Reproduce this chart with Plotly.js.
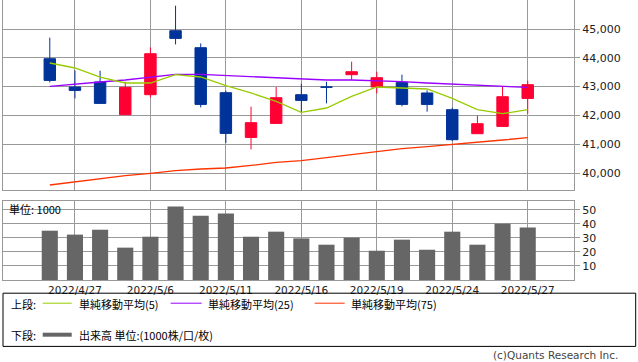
<!DOCTYPE html>
<html><head><meta charset="utf-8">
<script src="https://cdn.plot.ly/plotly-3.0.1.min.js"></script>
<style>html,body{margin:0;padding:0;background:#fff;} #chart{width:638px;height:362px;}</style>
</head><body><div id="chart"></div>
<script>
const dates = ['2022/4/26','2022/4/27','2022/4/28','2022/5/2','2022/5/6','2022/5/9','2022/5/10','2022/5/11','2022/5/12','2022/5/13','2022/5/16','2022/5/17','2022/5/18','2022/5/19','2022/5/20','2022/5/23','2022/5/24','2022/5/25','2022/5/26','2022/5/27'];
const openP  = [43969, 42986, 43160, 42024, 42719, 44941, 44351, 42788, 41236, 41722, 42719, 42986, 43413, 42986, 43146, 42778, 42198, 41365, 41618, 42590];
const highP  = [44698, 43563, 43552, 43170, 44361, 45809, 44500, 42858, 42302, 42986, 43101, 43170, 43865, 43517, 43413, 42868, 42268, 41990, 43007, 43205];
const lowP   = [43146, 42590, 42417, 42024, 42625, 44465, 42278, 41042, 40820, 41722, 42083, 42417, 43229, 42764, 42313, 42129, 41111, 41365, 41618, 42059];
const closeP = [43215, 42868, 42417, 42972, 44142, 44674, 42382, 41375, 41747, 42615, 42521, 42980, 43517, 43309, 42382, 42382, 41156, 41712, 42649, 43066];
const ma5  = [43819, 43646, 43333, 43125, 43125, 43413, 43333, 43031, 42778, 42486, 42104, 42257, 42660, 42986, 42951, 42917, 42590, 42198, 42059, 42198];
const ma25 = [43007, 43090, 43160, 43229, 43333, 43424, 43424, 43389, 43354, 43309, 43264, 43229, 43229, 43210, 43170, 43125, 43090, 43055, 43021, 42972];
const ma75 = [39583, 39698, 39792, 39906, 39986, 40080, 40139, 40174, 40264, 40368, 40427, 40531, 40646, 40740, 40844, 40913, 40983, 41076, 41146, 41226];
const volume = [35.2, 32.4, 35.9, 23.1, 30.9, 52.4, 45.9, 47.4, 30.9, 34.5, 29.7, 25.2, 30.2, 20.9, 28.8, 21.6, 34.5, 25.2, 40.2, 37.4];
const tickDates = ['2022/4/27','2022/5/6','2022/5/11','2022/5/16','2022/5/19','2022/5/24','2022/5/27'];
const priceTicks = [40000, 41000, 42000, 43000, 44000, 45000];
const volTicks = [10, 20, 30, 40, 50];
const legendTop = ['単純移動平均(5)', '単純移動平均(25)', '単純移動平均(75)'];
const legendBottom = '出来高 単位:(1000株/口/枚)';

// pixel -> paper helpers (layout positioning only)
const L = 3.3, R = 574.3, T = 0.3, B = 280.3;
const px = x => (x - L) / (R - L);
const py = y => (B - y) / (B - T);

const FONT = 'DejaVu Sans, Noto Sans CJK JP, sans-serif';
const JFONT = 'Noto Sans CJK JP, DejaVu Sans, sans-serif';
const GRID = '#999999';

const traces = [
  {type:'candlestick', x:dates, open:openP, high:highP, low:lowP, close:closeP,
   xaxis:'x', yaxis:'y', whiskerwidth:0,
   increasing:{line:{color:'#ff0033', width:1}, fillcolor:'#ff0033'},
   decreasing:{line:{color:'#003399', width:1}, fillcolor:'#003399'},
   hoverinfo:'skip', showlegend:false},
  {type:'scatter', mode:'lines', x:dates, y:ma75, xaxis:'x', yaxis:'y', line:{color:'#ff3300', width:1.3}, showlegend:false, hoverinfo:'skip'},
  {type:'scatter', mode:'lines', x:dates, y:ma25, xaxis:'x', yaxis:'y', line:{color:'#9900ff', width:1.3}, showlegend:false, hoverinfo:'skip'},
  {type:'scatter', mode:'lines', x:dates, y:ma5, xaxis:'x', yaxis:'y', line:{color:'#99cc00', width:1.3}, showlegend:false, hoverinfo:'skip'},
  {type:'bar', x:dates, y:volume, xaxis:'x2', yaxis:'y2', width:0.64, marker:{color:'#666666', line:{width:0}}, showlegend:false, hoverinfo:'skip'}
];

const xr = [-1.86, 20.84];
const axX = {type:'category', categoryorder:'array', categoryarray:dates, range:xr,
  showgrid:true, gridcolor:GRID, gridwidth:1, showline:true, linecolor:GRID, linewidth:1, mirror:true,
  tickmode:'array', tickvals:tickDates, ticks:'', zeroline:false, fixedrange:true};

const shapes = [
  {type:'rect', xref:'paper', yref:'paper', x0:px(3.3), x1:px(636), y0:py(293.5), y1:py(346.7), line:{color:'#000', width:1}, fillcolor:'rgba(0,0,0,0)'},
  {type:'line', xref:'paper', yref:'paper', x0:px(43), x1:px(72), y0:py(303.5), y1:py(303.5), line:{color:'#99cc00', width:1}},
  {type:'line', xref:'paper', yref:'paper', x0:px(171), x1:px(202), y0:py(303.5), y1:py(303.5), line:{color:'#9900ff', width:1}},
  {type:'line', xref:'paper', yref:'paper', x0:px(315), x1:px(345), y0:py(303.5), y1:py(303.5), line:{color:'#ff3300', width:1}},
  {type:'line', xref:'paper', yref:'paper', x0:px(43), x1:px(72), y0:py(335), y1:py(335), line:{color:'#666666', width:4}}
];

const ann = (text, x, y, size, color, anchor, fam) => ({text, xref:'paper', yref:'paper', x:px(x), y:py(y),
  xanchor:anchor||'left', yanchor:'middle', showarrow:false, font:{family:fam||JFONT, size:size||11, color:color||'#000'}});

const annotations = [
  ann('単位: 1000', 7, 209, 11, '#000'),
  ann('上段:', 9, 304.5, 11),
  ann(legendTop[0], 77, 304.5, 11),
  ann(legendTop[1], 206, 304.5, 11),
  ann(legendTop[2], 349, 304.5, 11),
  ann('下段:', 9, 335.5, 11),
  ann(legendBottom, 77, 335.5, 11),
  ann('(c)Quants Research Inc.', 620, 355, 10.5, '#444', 'right', FONT)
];

const layout = {
  width:638, height:362, margin:{l:L, r:638-R, t:T, b:362-B, pad:0},
  paper_bgcolor:'#fff', plot_bgcolor:'#fff', showlegend:false, boxgap:0.35, bargap:0.36,
  font:{family:FONT, size:11, color:'#222'},
  xaxis: Object.assign({}, axX, {anchor:'y', showticklabels:false, rangeslider:{visible:false}}),
  xaxis2: Object.assign({}, axX, {anchor:'y2', showticklabels:true, matches:'x', tickfont:{family:FONT, size:10.5, color:'#222'}}),
  yaxis: {domain:[py(190), 1], range:[39420, 46007], side:'right', anchor:'x', tickmode:'array', tickvals:priceTicks,
    tickformat:',d', showgrid:true, gridcolor:GRID, showline:true, linecolor:GRID, mirror:true, zeroline:false,
    ticks:'outside', ticklen:5, tickcolor:GRID, tickfont:{family:FONT, size:11, color:'#222'}, fixedrange:true},
  yaxis2: {domain:[0, py(201.3)], range:[0, 56.4], side:'right', anchor:'x2', tickmode:'array', tickvals:volTicks,
    showgrid:true, gridcolor:GRID, showline:true, linecolor:GRID, mirror:true, zeroline:false,
    ticks:'outside', ticklen:5, tickcolor:GRID, tickfont:{family:FONT, size:11, color:'#222'}, fixedrange:true},
  shapes, annotations
};

Plotly.newPlot('chart', traces, layout, {staticPlot:true, displayModeBar:false});
</script></body></html>
